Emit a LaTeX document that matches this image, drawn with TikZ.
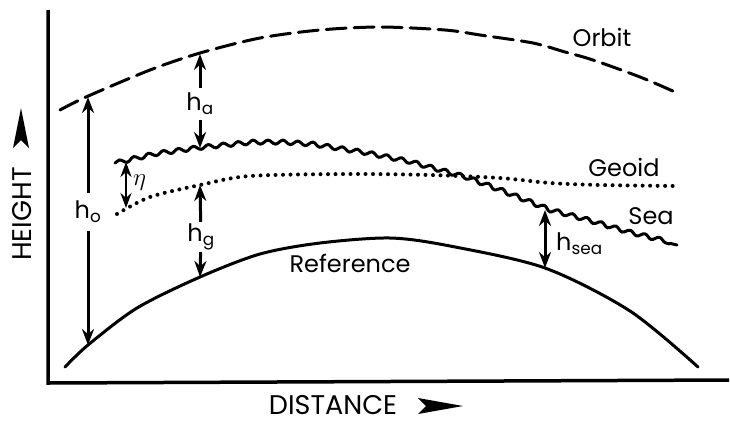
\documentclass[tikz,border=0pt]{standalone}
\usepackage{fontspec}
\setmainfont{Poppins}
\usetikzlibrary{positioning, arrows.meta, decorations.pathmorphing}

\begin{document}
\begin{tikzpicture}[x=1pt, y=-1pt,
    curve/.style={line width=3pt, line cap=round},
    orbitline/.style={curve, dash pattern=on 20pt off 8pt},
    geoidline/.style={line width=4pt, line cap=round, dash pattern=on 0pt off 7.5pt},
    sealine/.style={curve, decorate, decoration={snake, amplitude=2pt, segment length=15pt}},
    lbl/.style={font=\fontsize{24}{26}\selectfont, inner sep=0pt},
    axislbl/.style={font=\fontsize{27}{29}\selectfont, inner sep=0pt},
    hlbl/.style={font=\fontsize{24}{26}\selectfont, inner sep=5pt},
    arr/.style={-{Stealth[length=16pt,width=12pt]}, line width=3pt},
    bi/.style={{Stealth[length=16pt,width=12pt]}-{Stealth[length=16pt,width=12pt]}, line width=3pt},
    axis/.style={line width=3.5pt}
  ]
  \useasboundingbox (0,0) rectangle (730,421);

  \coordinate (ytop) at (48,10);
  \coordinate (origin) at (48,383);
  \coordinate (xend) at (729,380);
  \draw[axis] (ytop) -- (origin) -- (xend);

  \draw[orbitline] plot[smooth] coordinates {(60,110) (86,97) (150,70) (200,53)
    (260,38) (320,30) (380,27) (445,30) (480,35) (533,43) (565,52) (593,60)
    (640,77) (675,92)};
  \draw[sealine] (115,163) -- (150,155) -- (200,148) -- (250,143) -- (280,143)
    -- (310,145) -- (360,153) -- (405,162) -- (463,178) -- (500,192) -- (545,210)
    -- (583,220) -- (627,233) -- (677,245);
  \draw[geoidline] plot[smooth] coordinates {(117,214) (150,197) (200,185) (250,176)
    (350,174) (430,175) (500,178) (550,183) (600,185) (675,186)};
  \draw[curve] plot[smooth] coordinates {(65,367) (88,345) (137,308) (200,277)
    (260,254) (320,243) (390,238) (450,246) (545,268) (630,311) (698,367)};

  \node[lbl] (orbit) at (602,37) {Orbit};
  \node[lbl] (geoid) at (624,167) {Geoid};
  \node[lbl] (sea) at (651,216) {Sea};
  \node[lbl] (ref) at (350,263) {Reference};

  \coordinate (ho-top) at (88,97);
  \coordinate (ho-bot) at (88,345);
  \node[hlbl, inner sep=8pt] (ho) at (88,212) {h\textsubscript{o}};
  \draw[arr] (ho) -- (ho-top);
  \draw[arr] (ho) -- (ho-bot);

  \coordinate (ha-top) at (200,54);
  \coordinate (ha-bot) at (200,148);
  \node[hlbl] (ha) at (200,104) {h\textsubscript{a}};
  \draw[arr] (ha) -- (ha-top);
  \draw[arr] (ha) -- (ha-bot);

  \coordinate (hg-top) at (200,185);
  \coordinate (hg-bot) at (200,277);
  \node[hlbl, inner sep=2pt] (hg) at (201,237) {h\textsubscript{g}};
  \draw[arr] (hg) -- (hg-top);
  \draw[arr] (hg) -- (hg-bot);

  \coordinate (eta-top) at (126,162);
  \coordinate (eta-bot) at (126,208);
  \draw[{Stealth[length=15pt,width=11pt]}-{Stealth[length=15pt,width=11pt]}, line width=2.6pt]
    (eta-top) -- (eta-bot);
  \node[lbl, font=\fontsize{29}{30}\selectfont, anchor=west] (eta) at (133,183) {$\eta$};

  \coordinate (hs-top) at (545,210);
  \coordinate (hs-bot) at (545,268);
  \draw[bi] (hs-top) -- (hs-bot);
  \node[lbl, anchor=west] (hs) at (556,244) {h\textsubscript{sea}};

  \node[axislbl, rotate=90] (height) at (22,214) {HEIGHT};
  \coordinate (height-tip) at (21,108);
  \fill (height-tip) -- ++(8,40) -- ++(-8,-8) -- ++(-8,8) -- cycle;

  \node[axislbl] (dist) at (333,405) {DISTANCE};
  \coordinate (dist-tip) at (463,406);
  \fill (dist-tip) -- ++(-45,-8) -- ++(8,8) -- ++(-8,8) -- cycle;
\end{tikzpicture}
\end{document}
